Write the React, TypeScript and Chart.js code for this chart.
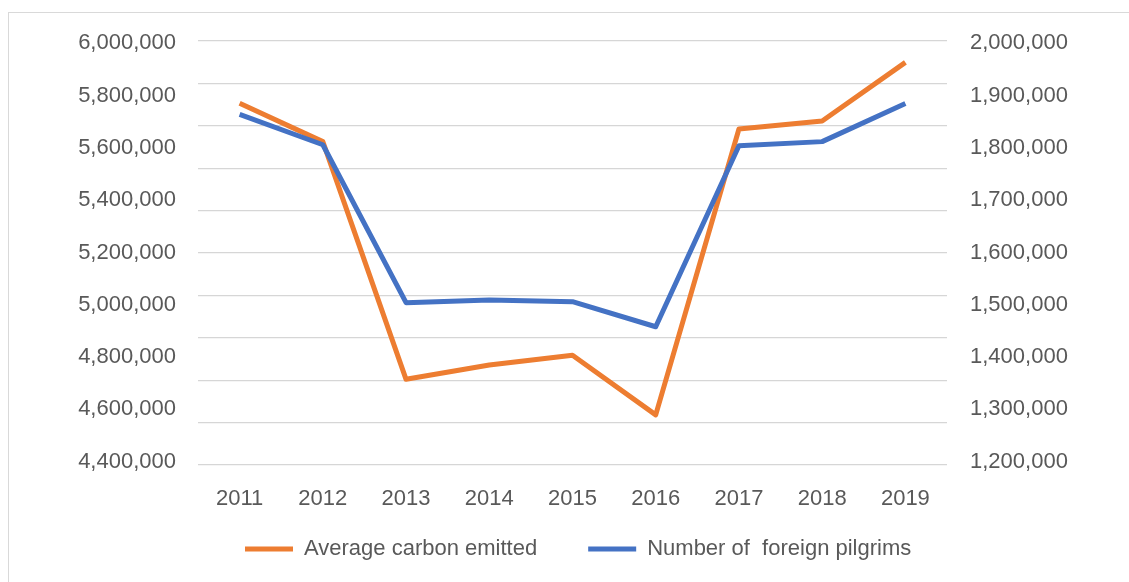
import React, { useEffect, useRef } from 'react';
import { Chart, registerables } from 'chart.js';

Chart.register(...registerables);

const years = ['2011', '2012', '2013', '2014', '2015', '2016', '2017', '2018', '2019'];
const carbonEmitted = [5771000, 5624000, 4715000, 4770000, 4807000, 4579000, 5672000, 5703000, 5927000];
const foreignPilgrims = [1864000, 1806000, 1504000, 1509000, 1506000, 1458000, 1804000, 1812000, 1885000];
const leftTicks = [4400000, 4600000, 4800000, 5000000, 5200000, 5400000, 5600000, 5800000, 6000000];
const rightTicks = [1200000, 1300000, 1400000, 1500000, 1600000, 1700000, 1800000, 1900000, 2000000];
const leftRange = [4387380, 6008795];
const rightRange = [1193690, 2004398];
const gridRange = [0, 10];

const ORANGE = '#ED7D31';
const BLUE = '#4472C4';
const GRID = '#D6D6D6';
const TEXT = '#595959';
const FONT = "'Liberation Sans', Arial, sans-serif";

const fmt = (v: number | string) => Number(v).toLocaleString('en-US');

// Places the legend row where the reference has it.
const legendPlace = {
  id: 'legendPlace',
  afterLayout(chart: any) {
    const lg = chart.legend;
    if (!lg) return;
    lg.left = 194;
    lg.right = 1129;
    lg.top = 487;
  },
};

export default function App() {
  const ref = useRef<HTMLCanvasElement | null>(null);

  useEffect(() => {
    if (!ref.current) return;
    const chart = new Chart(ref.current, {
      type: 'line',
      data: {
        labels: years,
        datasets: [
          {
            label: 'Average carbon emitted',
            data: carbonEmitted,
            borderColor: ORANGE,
            backgroundColor: ORANGE,
            borderWidth: 5,
            pointRadius: 0,
            tension: 0,
            borderJoinStyle: 'round',
            yAxisID: 'y',
            order: 1,
          },
          {
            label: 'Number of  foreign pilgrims',
            data: foreignPilgrims,
            borderColor: BLUE,
            backgroundColor: BLUE,
            borderWidth: 5,
            pointRadius: 0,
            tension: 0,
            borderJoinStyle: 'round',
            yAxisID: 'y1',
            order: 0,
          },
        ],
      },
      options: {
        animation: false,
        responsive: false,
        devicePixelRatio: 1,
        layout: { padding: { left: 0, right: 0, top: 41, bottom: 11 } },
        plugins: {
          tooltip: { enabled: false },
          legend: {
            position: 'bottom',
            align: 'start',
            maxHeight: 60,
            labels: {
              boxWidth: 48,
              boxHeight: 5,
              padding: 51,
              color: TEXT,
              font: { family: FONT, size: 22 },
              sort: (a: any, b: any) => a.datasetIndex - b.datasetIndex,
              generateLabels: (c: any) =>
                Chart.defaults.plugins.legend.labels.generateLabels(c).map((l: any) => ({
                  ...l,
                  lineWidth: 0,
                  fillStyle: l.strokeStyle,
                })),
            },
          },
        },
        scales: {
          x: {
            offset: true,
            grid: { display: false, drawTicks: false },
            border: { display: false },
            ticks: { color: TEXT, font: { family: FONT, size: 22 }, padding: 21, maxRotation: 0, autoSkip: false },
            afterFit: (s: any) => { s.height = 46; },
          },
          g: {
            type: 'linear',
            position: 'left',
            min: gridRange[0],
            max: gridRange[1],
            ticks: { display: false, stepSize: 1 },
            grid: { color: GRID, lineWidth: 1.2, drawTicks: false },
            border: { display: false },
            afterFit: (s: any) => { s.width = 0; },
          },
          y: {
            type: 'linear',
            position: 'left',
            min: leftRange[0],
            max: leftRange[1],
            grid: { display: false, drawTicks: false },
            border: { display: false },
            afterBuildTicks: (s: any) => { s.ticks = leftTicks.map((v) => ({ value: v })); },
            ticks: { color: TEXT, font: { family: FONT, size: 22 }, padding: 22, callback: (v: any) => fmt(v) },
            afterFit: (s: any) => { s.width = 198; },
          },
          y1: {
            type: 'linear',
            position: 'right',
            min: rightRange[0],
            max: rightRange[1],
            grid: { display: false, drawTicks: false },
            border: { display: false },
            afterBuildTicks: (s: any) => { s.ticks = rightTicks.map((v) => ({ value: v })); },
            ticks: { color: TEXT, font: { family: FONT, size: 22 }, padding: 23, callback: (v: any) => fmt(v) },
            afterFit: (s: any) => { s.width = 182; },
          },
        },
      },
      plugins: [legendPlace],
    } as any);
    return () => chart.destroy();
  }, []);

  return (
    <div style={{ position: 'absolute', left: 0, top: 0, width: 1129, height: 582, overflow: 'hidden', background: '#fff' }}>
      <div
        style={{
          position: 'absolute',
          left: 8,
          top: 12,
          width: 1300,
          height: 800,
          border: '1px solid #D9D9D9',
          boxSizing: 'border-box',
        }}
      />
      <canvas ref={ref} width={1129} height={582} style={{ position: 'absolute', left: 0, top: 0 }} />
    </div>
  );
}
